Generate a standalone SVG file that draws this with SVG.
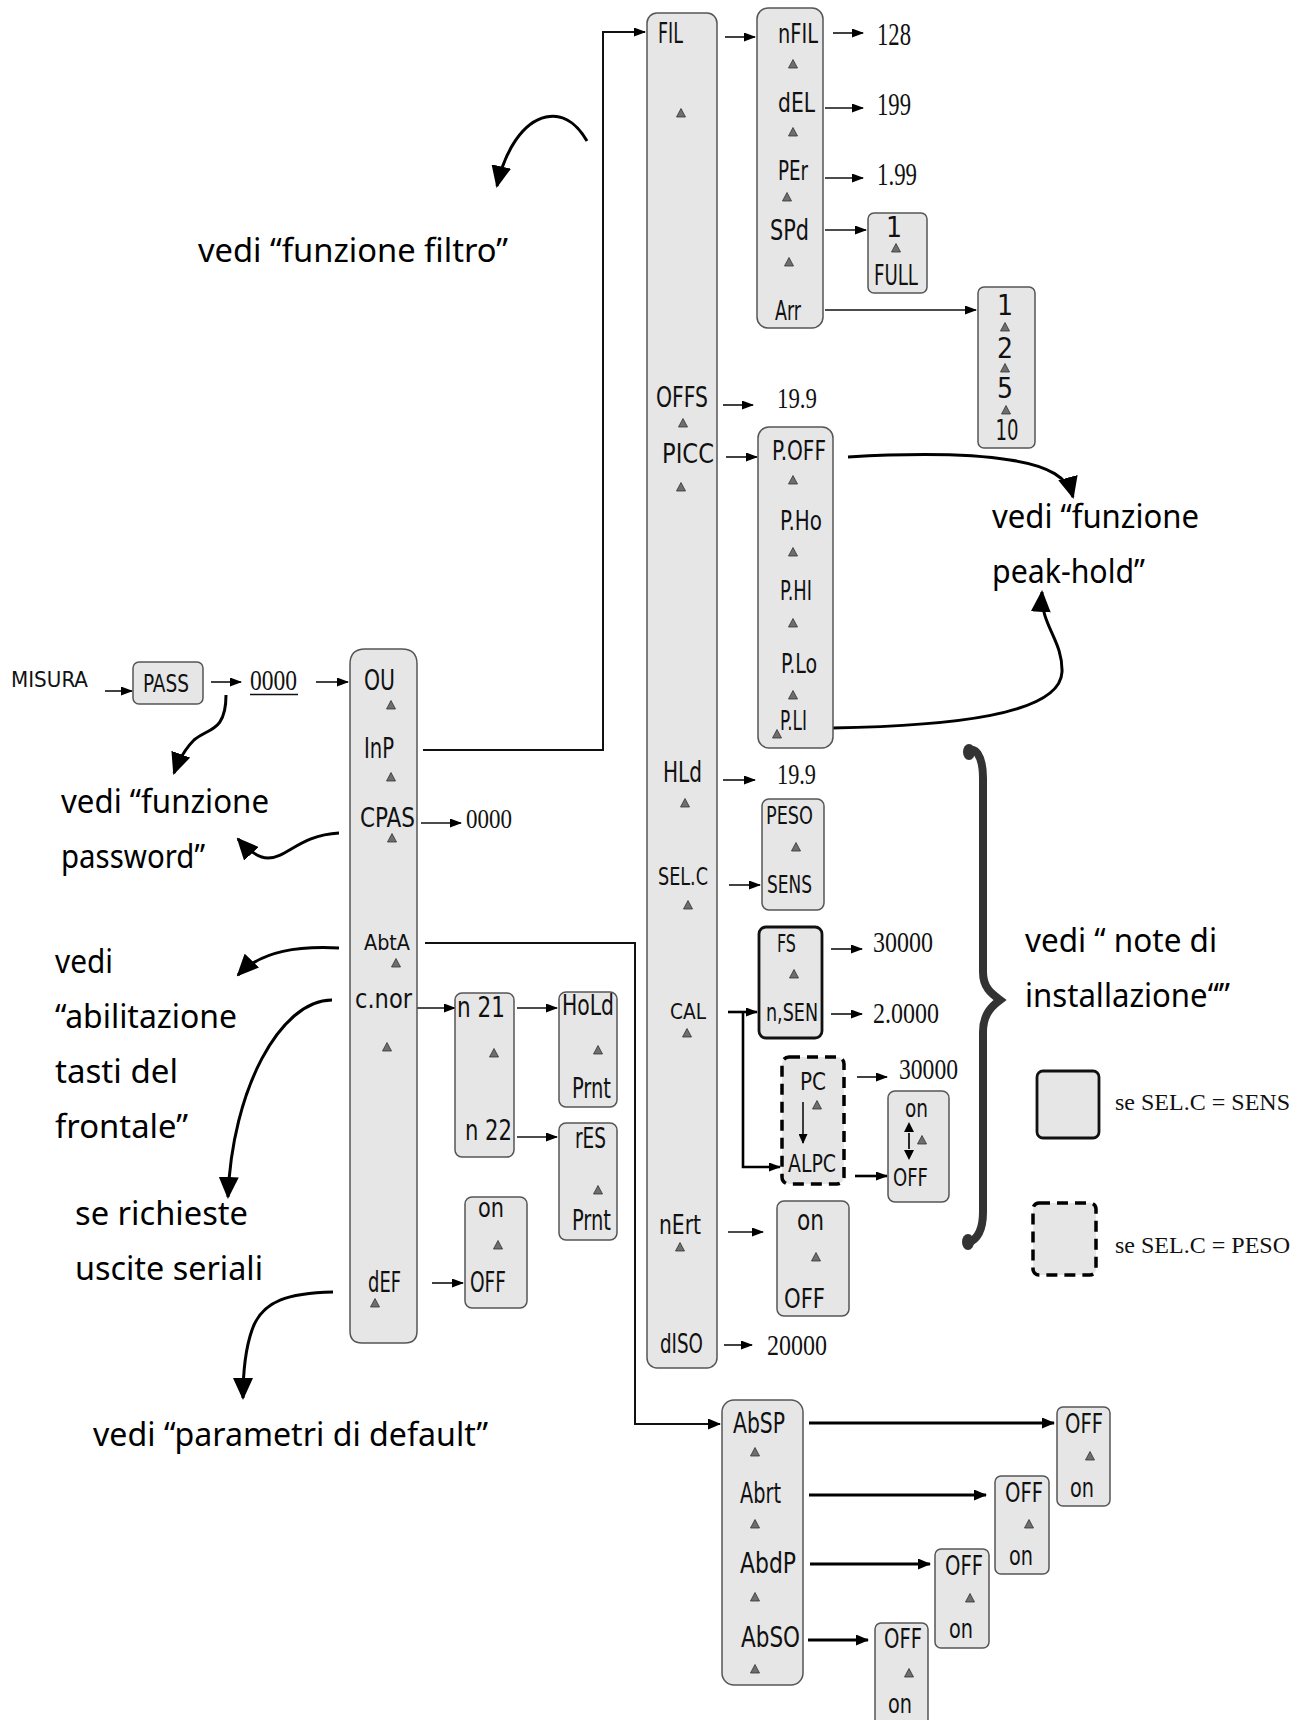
<svg xmlns="http://www.w3.org/2000/svg" xmlns:xlink="http://www.w3.org/1999/xlink" width="1307" height="1720" viewBox="0 0 1307 1720">
<style>
.bx{fill:#e6e6e6;stroke:#555;stroke-width:1.5}
.bxs{fill:#e6e6e6;stroke:#111;stroke-width:2.8}
.bxd{fill:#e6e6e6;stroke:#000;stroke-width:3.5;stroke-dasharray:11 7}
.l{font-family:"Liberation Sans Narrow","DejaVu Sans Condensed","Liberation Sans",sans-serif;fill:#111}
.n{font-family:"Liberation Serif","Times New Roman",serif;fill:#111}
.h{font-family:"Noto Sans","Open Sans",sans-serif;font-size:33px;fill:#000}
.c{fill:none;stroke:#111;stroke-width:1.6}
.ct{fill:none;stroke:#000;stroke-width:3.2}
.cv{fill:none;stroke:#000;stroke-width:3}
.tri{fill:#6e6e6e;stroke:#333;stroke-width:0.8}
</style>
<defs>
<marker id="a" markerUnits="userSpaceOnUse" markerWidth="12" markerHeight="9" refX="11" refY="4.5" orient="auto"><path d="M0,0 L12,4.5 L0,9 z" fill="#000"/></marker>
<marker id="at" markerUnits="userSpaceOnUse" markerWidth="13" markerHeight="11" refX="12" refY="5.5" orient="auto"><path d="M0,0 L13,5.5 L0,11 z" fill="#000"/></marker>
<marker id="ab" markerUnits="userSpaceOnUse" markerWidth="22" markerHeight="20" refX="20" refY="10" orient="auto"><path d="M0,0 L22,10 L0,20 z" fill="#000"/></marker>
<marker id="as" markerUnits="userSpaceOnUse" markerWidth="10" markerHeight="9" refX="9" refY="4.5" orient="auto"><path d="M0,0 L10,4.5 L0,9 z" fill="#000"/></marker>
<path id="t" d="M-4.5,4 L0,-4.5 L4.5,4 z"/>
</defs>
<rect width="1307" height="1720" fill="#fff"/>

<g id="connectors">
<path class="c" d="M105,691 H132" marker-end="url(#a)"/>
<path class="c" d="M211,682 H241" marker-end="url(#a)"/>
<path class="c" d="M316,682 H348" marker-end="url(#a)"/>
<path class="c" style="stroke-width:2" d="M423,750 H603 V32 H645" marker-end="url(#a)"/>
<path class="c" style="stroke-width:2" d="M425,943 H635 V1424 H720" marker-end="url(#at)"/>
<path class="c" d="M421,823 H461" marker-end="url(#a)"/>
<path class="c" d="M417,1008 H455" marker-end="url(#a)"/>
<path class="c" d="M517,1008 H557" marker-end="url(#a)"/>
<path class="c" d="M517,1137 H557" marker-end="url(#a)"/>
<path class="c" d="M432,1283 H463" marker-end="url(#a)"/>
<path class="c" d="M725,37 H755" marker-end="url(#a)"/>
<path class="c" d="M833,33 H863" marker-end="url(#a)"/>
<path class="c" d="M825,108 H863" marker-end="url(#a)"/>
<path class="c" d="M825,178 H863" marker-end="url(#a)"/>
<path class="c" d="M825,230 H866" marker-end="url(#a)"/>
<path class="c" d="M825,310 H976" marker-end="url(#a)"/>
<path class="c" d="M723,405 H753" marker-end="url(#a)"/>
<path class="c" d="M726,457 H757" marker-end="url(#a)"/>
<path class="c" d="M723,780 H755" marker-end="url(#a)"/>
<path class="c" d="M729,885 H760" marker-end="url(#a)"/>
<path class="c" d="M831,949 H862" marker-end="url(#a)"/>
<path class="c" d="M831,1014 H862" marker-end="url(#a)"/>
<path class="ct" style="stroke-width:2.6" d="M728,1012 H757" marker-end="url(#a)"/>
<path class="ct" style="stroke-width:2.6" d="M743,1012 V1167 H780" marker-end="url(#a)"/>
<path class="c" d="M857,1077 H887" marker-end="url(#a)"/>
<path class="ct" style="stroke-width:2.6" d="M855,1176 H887" marker-end="url(#a)"/>
<path class="c" d="M728,1232 H763" marker-end="url(#a)"/>
<path class="c" d="M724,1345 H752" marker-end="url(#a)"/>
<path class="ct" d="M809,1423 H1054" marker-end="url(#at)"/>
<path class="ct" d="M809,1495 H986" marker-end="url(#at)"/>
<path class="ct" d="M810,1564 H930" marker-end="url(#at)"/>
<path class="ct" d="M808,1640 H868" marker-end="url(#at)"/>
<path class="cv" d="M587,141 C575,120 560,114 546,117 C523,122 505,150 497,186" marker-end="url(#ab)"/>
<path class="cv" d="M226,695 C226,732 208,728 194,740 C184,750 178,762 174,773" marker-end="url(#ab)"/>
<path class="cv" d="M339,833 C300,835 287,858 268,858 C258,858 248,850 238,839" marker-end="url(#ab)"/>
<path class="cv" d="M339,948 C300,946 262,950 238,975" marker-end="url(#ab)"/>
<path class="cv" d="M332,1000 C280,1000 232,1090 228,1197" marker-end="url(#ab)"/>
<path class="cv" d="M333,1292 C290,1293 262,1300 252,1330 C245,1350 243,1375 243,1398" marker-end="url(#ab)"/>
<path class="cv" d="M848,457 C900,454 960,452 1010,460 C1050,466 1068,478 1073,497" marker-end="url(#ab)"/>
<path class="cv" d="M832,728 C950,726 1060,715 1062,672 C1063,640 1040,625 1042,592" marker-end="url(#ab)"/>
</g>

<g id="misura"><text class="l" x="11" y="687" font-size="21" textLength="77" lengthAdjust="spacingAndGlyphs">MISURA</text></g>
<g id="pass"><rect class="bx" x="133" y="662" width="70" height="42" rx="6"/><text class="l" x="143" y="692" font-size="24" textLength="46" lengthAdjust="spacingAndGlyphs">PASS</text></g>
<g id="pw"><text class="n" x="250" y="690" font-size="29" textLength="47" lengthAdjust="spacingAndGlyphs">0000</text><line x1="250" y1="694.5" x2="298" y2="694.5" stroke="#111" stroke-width="1.6"/></g>

<g id="main">
<path class="bx" d="M365,649 H402 Q417,649 417,664 V1331 Q417,1343 405,1343 H362 Q350,1343 350,1331 V664 Q350,649 365,649 z"/>
<text class="l" x="364" y="690" font-size="28" textLength="31" lengthAdjust="spacingAndGlyphs">OU</text>
<use href="#t" class="tri" x="391" y="705"/>
<text class="l" x="364" y="758" font-size="28" textLength="30" lengthAdjust="spacingAndGlyphs">InP</text>
<use href="#t" class="tri" x="391" y="777"/>
<text class="l" x="360" y="827" font-size="26" textLength="55" lengthAdjust="spacingAndGlyphs">CPAS</text>
<use href="#t" class="tri" x="392" y="838"/>
<text class="l" x="364" y="950" font-size="21" textLength="46" lengthAdjust="spacingAndGlyphs">AbtA</text>
<use href="#t" class="tri" x="396" y="963"/>
<text class="l" x="355" y="1008" font-size="26" textLength="57" lengthAdjust="spacingAndGlyphs">c.nor</text>
<use href="#t" class="tri" x="387" y="1047"/>
<text class="l" x="368" y="1292" font-size="28" textLength="33" lengthAdjust="spacingAndGlyphs">dEF</text>
<use href="#t" class="tri" x="375" y="1303"/>
</g>
<g id="cpasval"><text class="n" x="466" y="828" font-size="28" textLength="46" lengthAdjust="spacingAndGlyphs">0000</text></g>

<g id="n21">
<rect class="bx" x="455" y="993" width="59" height="164" rx="7"/>
<text class="l" x="457" y="1017" font-size="28" textLength="48" lengthAdjust="spacingAndGlyphs">n 21</text>
<use href="#t" class="tri" x="494" y="1053"/>
<text class="l" x="465" y="1140" font-size="28" textLength="47" lengthAdjust="spacingAndGlyphs">n 22</text>
</g>
<g id="hold">
<rect class="bx" x="559" y="992" width="58" height="115" rx="7"/>
<text class="l" x="562" y="1015" font-size="28" textLength="52" lengthAdjust="spacingAndGlyphs">HoLd</text>
<use href="#t" class="tri" x="598" y="1050"/>
<text class="l" x="572" y="1098" font-size="28" textLength="39" lengthAdjust="spacingAndGlyphs">Prnt</text>
</g>
<g id="res">
<rect class="bx" x="559" y="1123" width="58" height="117" rx="7"/>
<text class="l" x="575" y="1148" font-size="28" textLength="31" lengthAdjust="spacingAndGlyphs">rES</text>
<use href="#t" class="tri" x="598" y="1190"/>
<text class="l" x="572" y="1230" font-size="28" textLength="39" lengthAdjust="spacingAndGlyphs">Prnt</text>
</g>
<g id="defbox">
<rect class="bx" x="465" y="1197" width="62" height="111" rx="7"/>
<text class="l" x="478" y="1217" font-size="26" textLength="26" lengthAdjust="spacingAndGlyphs">on</text>
<use href="#t" class="tri" x="498" y="1245"/>
<text class="l" x="470" y="1292" font-size="28" textLength="36" lengthAdjust="spacingAndGlyphs">OFF</text>
</g>

<g id="fil">
<rect class="bx" x="647" y="13" width="70" height="1355" rx="10"/>
<text class="l" x="658" y="43" font-size="28" textLength="25" lengthAdjust="spacingAndGlyphs">FIL</text>
<use href="#t" class="tri" x="681" y="113"/>
<text class="l" x="656" y="407" font-size="28" textLength="52" lengthAdjust="spacingAndGlyphs">OFFS</text>
<use href="#t" class="tri" x="683" y="423"/>
<text class="l" x="662" y="463" font-size="27" textLength="52" lengthAdjust="spacingAndGlyphs">PICC</text>
<use href="#t" class="tri" x="681" y="487"/>
<text class="l" x="663" y="782" font-size="28" textLength="39" lengthAdjust="spacingAndGlyphs">HLd</text>
<use href="#t" class="tri" x="685" y="803"/>
<text class="l" x="658" y="885" font-size="24" textLength="50" lengthAdjust="spacingAndGlyphs">SEL.C</text>
<use href="#t" class="tri" x="688" y="905"/>
<text class="l" x="670" y="1019" font-size="22" textLength="36" lengthAdjust="spacingAndGlyphs">CAL</text>
<use href="#t" class="tri" x="687" y="1033"/>
<text class="l" x="659" y="1234" font-size="27" textLength="42" lengthAdjust="spacingAndGlyphs">nErt</text>
<use href="#t" class="tri" x="680" y="1247"/>
<text class="l" x="660" y="1353" font-size="26" textLength="43" lengthAdjust="spacingAndGlyphs">dISO</text>
</g>

<g id="nfil">
<rect class="bx" x="757" y="8" width="66" height="320" rx="11"/>
<text class="l" x="778" y="43" font-size="26" textLength="40" lengthAdjust="spacingAndGlyphs">nFIL</text>
<use href="#t" class="tri" x="793" y="64"/>
<text class="l" x="778" y="112" font-size="26" textLength="37" lengthAdjust="spacingAndGlyphs">dEL</text>
<use href="#t" class="tri" x="793" y="132"/>
<text class="l" x="778" y="180" font-size="26" textLength="30" lengthAdjust="spacingAndGlyphs">PEr</text>
<use href="#t" class="tri" x="787" y="197"/>
<text class="l" x="770" y="240" font-size="28" textLength="39" lengthAdjust="spacingAndGlyphs">SPd</text>
<use href="#t" class="tri" x="789" y="262"/>
<text class="l" x="775" y="320" font-size="26" textLength="26" lengthAdjust="spacingAndGlyphs">Arr</text>
</g>
<g id="vals1">
<text class="n" x="877" y="45" font-size="32" textLength="34" lengthAdjust="spacingAndGlyphs">128</text>
<text class="n" x="877" y="115" font-size="32" textLength="34" lengthAdjust="spacingAndGlyphs">199</text>
<text class="n" x="877" y="185" font-size="32" textLength="40" lengthAdjust="spacingAndGlyphs">1.99</text>
<text class="n" x="777" y="408" font-size="29" textLength="40" lengthAdjust="spacingAndGlyphs">19.9</text>
<text class="n" x="777" y="784" font-size="29" textLength="39" lengthAdjust="spacingAndGlyphs">19.9</text>
<text class="n" x="873" y="952" font-size="30" textLength="60" lengthAdjust="spacingAndGlyphs">30000</text>
<text class="n" x="873" y="1023" font-size="30" textLength="66" lengthAdjust="spacingAndGlyphs">2.0000</text>
<text class="n" x="899" y="1079" font-size="30" textLength="59" lengthAdjust="spacingAndGlyphs">30000</text>
<text class="n" x="767" y="1355" font-size="29" textLength="60" lengthAdjust="spacingAndGlyphs">20000</text>
</g>
<g id="spd">
<rect class="bx" x="868" y="213" width="59" height="80" rx="6"/>
<text class="l" x="894" y="237" font-size="28" text-anchor="middle">1</text>
<use href="#t" class="tri" x="896" y="248"/>
<text class="l" x="874" y="285" font-size="28" textLength="44" lengthAdjust="spacingAndGlyphs">FULL</text>
</g>
<g id="arr">
<rect class="bx" x="978" y="287" width="57" height="161" rx="6"/>
<text class="l" x="1005" y="315" font-size="28" text-anchor="middle">1</text>
<use href="#t" class="tri" x="1005" y="327"/>
<text class="l" x="1005" y="358" font-size="28" text-anchor="middle">2</text>
<use href="#t" class="tri" x="1005" y="368"/>
<text class="l" x="1005" y="398" font-size="28" text-anchor="middle">5</text>
<use href="#t" class="tri" x="1006" y="410"/>
<text class="l" x="1007" y="440" font-size="28" text-anchor="middle" textLength="23" lengthAdjust="spacingAndGlyphs">10</text>
</g>
<g id="picc">
<rect class="bx" x="758" y="427" width="75" height="321" rx="11"/>
<text class="l" x="772" y="460" font-size="27" textLength="54" lengthAdjust="spacingAndGlyphs">P.OFF</text>
<use href="#t" class="tri" x="793" y="480"/>
<text class="l" x="780" y="530" font-size="27" textLength="42" lengthAdjust="spacingAndGlyphs">P.Ho</text>
<use href="#t" class="tri" x="793" y="552"/>
<text class="l" x="780" y="600" font-size="27" textLength="32" lengthAdjust="spacingAndGlyphs">P.HI</text>
<use href="#t" class="tri" x="793" y="623"/>
<text class="l" x="781" y="673" font-size="27" textLength="36" lengthAdjust="spacingAndGlyphs">P.Lo</text>
<use href="#t" class="tri" x="793" y="695"/>
<text class="l" x="780" y="730" font-size="27" textLength="27" lengthAdjust="spacingAndGlyphs">P.LI</text>
<use href="#t" class="tri" x="777" y="734"/>
</g>
<g id="selc">
<rect class="bx" x="762" y="799" width="62" height="111" rx="7"/>
<text class="l" x="766" y="824" font-size="24" textLength="47" lengthAdjust="spacingAndGlyphs">PESO</text>
<use href="#t" class="tri" x="796" y="847"/>
<text class="l" x="767" y="893" font-size="24" textLength="45" lengthAdjust="spacingAndGlyphs">SENS</text>
</g>
<g id="fs">
<rect class="bxs" x="759" y="927" width="63" height="111" rx="7"/>
<text class="l" x="777" y="952" font-size="24" textLength="19" lengthAdjust="spacingAndGlyphs">FS</text>
<use href="#t" class="tri" x="794" y="974"/>
<text class="l" x="766" y="1021" font-size="24" textLength="52" lengthAdjust="spacingAndGlyphs">n,SEN</text>
</g>
<g id="pc">
<rect class="bxd" x="782" y="1057" width="62" height="127" rx="7"/>
<text class="l" x="800" y="1090" font-size="24" textLength="26" lengthAdjust="spacingAndGlyphs">PC</text>
<use href="#t" class="tri" x="817" y="1105"/>
<path class="c" d="M803,1102 V1143" marker-end="url(#as)"/>
<text class="l" x="788" y="1172" font-size="24" textLength="48" lengthAdjust="spacingAndGlyphs">ALPC</text>
</g>
<g id="alpcval">
<rect class="bx" x="888" y="1091" width="61" height="111" rx="7"/>
<text class="l" x="905" y="1117" font-size="24" textLength="23" lengthAdjust="spacingAndGlyphs">on</text>
<path class="c" style="stroke-width:1.8" d="M909,1133 V1149"/>
<path d="M909,1122 L904,1132 L914,1132 z M909,1160 L904,1150 L914,1150 z" fill="#000"/>
<use href="#t" class="tri" x="922" y="1140"/>
<text class="l" x="893" y="1186" font-size="24" textLength="35" lengthAdjust="spacingAndGlyphs">OFF</text>
</g>
<g id="nert">
<rect class="bx" x="777" y="1201" width="72" height="115" rx="7"/>
<text class="l" x="797" y="1230" font-size="28" textLength="27" lengthAdjust="spacingAndGlyphs">on</text>
<use href="#t" class="tri" x="816" y="1257"/>
<text class="l" x="784" y="1308" font-size="27" textLength="41" lengthAdjust="spacingAndGlyphs">OFF</text>
</g>

<g id="abtacol">
<rect class="bx" x="722" y="1400" width="81" height="285" rx="12"/>
<text class="l" x="733" y="1433" font-size="28" textLength="52" lengthAdjust="spacingAndGlyphs">AbSP</text>
<use href="#t" class="tri" x="755" y="1452"/>
<text class="l" x="740" y="1503" font-size="28" textLength="41" lengthAdjust="spacingAndGlyphs">Abrt</text>
<use href="#t" class="tri" x="755" y="1524"/>
<text class="l" x="740" y="1573" font-size="28" textLength="56" lengthAdjust="spacingAndGlyphs">AbdP</text>
<use href="#t" class="tri" x="755" y="1597"/>
<text class="l" x="741" y="1647" font-size="28" textLength="59" lengthAdjust="spacingAndGlyphs">AbSO</text>
<use href="#t" class="tri" x="755" y="1669"/>
</g>
<g id="b1"><rect class="bx" x="1057" y="1407" width="53" height="99" rx="6"/>
<text class="l" x="1065" y="1433" font-size="26" textLength="38" lengthAdjust="spacingAndGlyphs">OFF</text><use href="#t" class="tri" x="1090" y="1456"/>
<text class="l" x="1070" y="1497" font-size="26" textLength="24" lengthAdjust="spacingAndGlyphs">on</text></g>
<g id="b2"><rect class="bx" x="995" y="1476" width="54" height="98" rx="6"/>
<text class="l" x="1005" y="1502" font-size="26" textLength="38" lengthAdjust="spacingAndGlyphs">OFF</text><use href="#t" class="tri" x="1029" y="1524"/>
<text class="l" x="1009" y="1565" font-size="26" textLength="24" lengthAdjust="spacingAndGlyphs">on</text></g>
<g id="b3"><rect class="bx" x="935" y="1549" width="54" height="99" rx="6"/>
<text class="l" x="945" y="1575" font-size="26" textLength="38" lengthAdjust="spacingAndGlyphs">OFF</text><use href="#t" class="tri" x="970" y="1598"/>
<text class="l" x="949" y="1638" font-size="26" textLength="24" lengthAdjust="spacingAndGlyphs">on</text></g>
<g id="b4"><rect class="bx" x="875" y="1623" width="53" height="110" rx="6"/>
<text class="l" x="884" y="1648" font-size="26" textLength="38" lengthAdjust="spacingAndGlyphs">OFF</text><use href="#t" class="tri" x="909" y="1673"/>
<text class="l" x="888" y="1713" font-size="26" textLength="24" lengthAdjust="spacingAndGlyphs">on</text></g>

<g id="brace">
<path d="M968,752 C974,745 983,755 983,778 L983,972 C983,988 992,994 1000,1000 C992,1006 983,1014 983,1032 L983,1212 C983,1232 976,1240 968,1243" fill="none" stroke="#333" stroke-width="8" stroke-linecap="round"/>
<ellipse cx="969" cy="752" rx="6" ry="8" fill="#333"/>
<ellipse cx="968" cy="1242" rx="6" ry="8" fill="#333"/>
</g>
<g id="legend">
<rect class="bxs" x="1037" y="1071" width="62" height="67" rx="6"/>
<text class="n" x="1115" y="1110" font-size="23" textLength="175" lengthAdjust="spacingAndGlyphs">se SEL.C = SENS</text>
<rect class="bxd" x="1033" y="1203" width="63" height="72" rx="6"/>
<text class="n" x="1115" y="1253" font-size="23" textLength="175" lengthAdjust="spacingAndGlyphs">se SEL.C = PESO</text>
</g>

<g id="notes">
<text class="h" x="198" y="262" textLength="310" lengthAdjust="spacingAndGlyphs">vedi “funzione filtro”</text>
<text class="h" x="992" y="528" textLength="207" lengthAdjust="spacingAndGlyphs">vedi “funzione</text>
<text class="h" x="992" y="583" textLength="153" lengthAdjust="spacingAndGlyphs">peak-hold”</text>
<text class="h" x="61" y="813" textLength="208" lengthAdjust="spacingAndGlyphs">vedi “funzione</text>
<text class="h" x="61" y="868" textLength="144" lengthAdjust="spacingAndGlyphs">password”</text>
<text class="h" x="55" y="973" textLength="58" lengthAdjust="spacingAndGlyphs">vedi</text>
<text class="h" x="55" y="1028" textLength="182" lengthAdjust="spacingAndGlyphs">“abilitazione</text>
<text class="h" x="55" y="1083" textLength="123" lengthAdjust="spacingAndGlyphs">tasti del</text>
<text class="h" x="55" y="1138" textLength="133" lengthAdjust="spacingAndGlyphs">frontale”</text>
<text class="h" x="75" y="1225" textLength="173" lengthAdjust="spacingAndGlyphs">se richieste</text>
<text class="h" x="75" y="1280" textLength="188" lengthAdjust="spacingAndGlyphs">uscite seriali</text>
<text class="h" x="93" y="1446" textLength="395" lengthAdjust="spacingAndGlyphs">vedi “parametri di default”</text>
<text class="h" x="1025" y="952" textLength="192" lengthAdjust="spacingAndGlyphs">vedi “ note di</text>
<text class="h" x="1025" y="1007" textLength="205" lengthAdjust="spacingAndGlyphs">installazione“”</text>
</g>
</svg>
